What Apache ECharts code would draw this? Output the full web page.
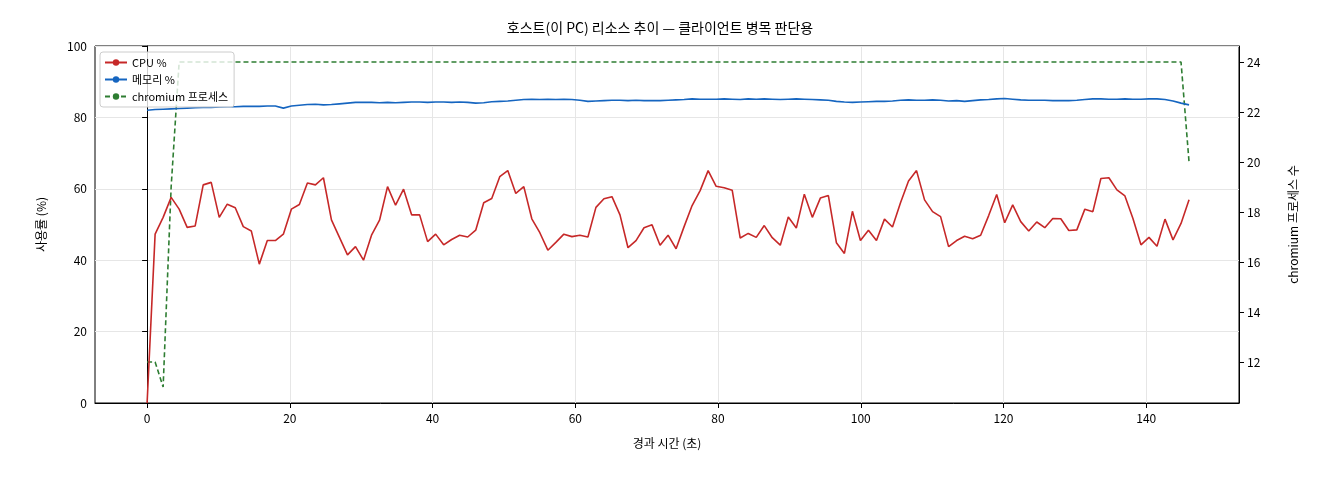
<!DOCTYPE html>
<html><head><meta charset="utf-8">
<script src="https://cdn.jsdelivr.net/npm/echarts@6/dist/echarts.min.js"></script>
<style>html,body{margin:0;padding:0;background:#fff}#c{width:1320px;height:480px}</style>
</head><body><div id="c"></div>
<script>
const SAMPLE_STEP = 146 / 130; // seconds between samples
const cpu = [0,47.3,52,57.6,54.3,49.2,49.6,61.1,61.8,52,55.7,54.7,49.4,48.2,38.9,45.5,45.5,47.3,54.3,55.6,61.6,61.1,63.1,51.3,46.4,41.5,43.8,40,47,51.2,60.6,55.4,59.9,52.7,52.7,45.2,47.3,44.3,45.8,47,46.5,48.4,56.1,57.3,63.4,65.1,58.7,
60.6,51.6,47.7,42.8,45,47.3,46.6,47,46.5,54.8,57.2,57.8,52.7,43.5,45.5,49.1,49.9,44.2,47,43.2,49.4,55.3,59.5,65.1,60.7,60.3,59.6,46.2,47.5,46.4,49.7,46.3,44.2,52.1,49,58.5,52,57.4,58.1,44.9,41.9,53.7,45.5,
48.4,45.5,51.5,49.3,56.1,62.2,65.1,56.9,53.6,52.2,43.8,45.5,46.7,46,47,52.5,58.4,50.5,55.5,50.8,48.2,50.7,49.1,51.7,51.6,48.3,48.5,54.3,53.6,62.9,63.1,59.7,58,51.7,44.3,46.4,43.9,51.5,45.7,50.3,56.9];
const mem = [82,82.2,82.3,82.4,82.5,82.6,82.7,82.8,82.8,82.9,83.0,83.0,83.1,83.1,83.1,83.2,83.2,82.6,83.2,83.4,83.6,83.7,83.5,83.6,83.8,84.0,84.2,84.2,84.2,84.1,84.2,84.1,84.2,84.3,84.3,84.2,84.3,84.3,84.2,84.3,84.2,84.0,84.1,84.4,84.5,84.6,84.8,85.0,85.1,85.0,85.1,85.0,85.1,85.0,84.8,84.5,84.6,84.7,84.8,84.8,84.7,84.8,84.7,84.7,84.7,84.8,84.9,85.0,85.2,85.1,85.1,85.1,85.2,85.1,85.0,85.2,85.1,85.2,85.1,85.0,85.1,85.2,85.1,85.0,84.9,84.8,84.5,84.3,84.2,84.3,84.4,84.5,84.5,84.6,84.8,84.9,84.8,84.8,84.9,84.8,84.6,84.7,84.5,84.7,84.9,85.0,85.2,85.3,85.1,84.9,84.8,84.8,84.8,84.7,84.7,84.7,84.8,85.0,85.2,85.2,85.1,85.1,85.2,85.1,85.1,85.2,85.2,85.0,84.6,84.0,83.5];
const procHead = [12,12,11,19];
const procSteady = 24, procSteadyCount = 126, procLast = 20;
const proc = procHead.concat(Array(procSteadyCount).fill(procSteady)).concat([procLast]);
const xTicks = [0,20,40,60,80,100,120,140];
const rightTicks = [12,14,16,18,20,22,24];

const pair = arr => arr.map((v,i)=>[+(i*SAMPLE_STEP).toFixed(3), v]);
const F = '"Noto Sans CJK KR", "DejaVu Sans", sans-serif';
const AL = {show:true,lineStyle:{color:'#000',width:1}};
const chart = echarts.init(document.getElementById('c'));
chart.setOption({
  animation:false,
  textStyle:{fontFamily:F},
  title:{text:'호스트(이 PC) 리소스 추이 — 클라이언트 병목 판단용',left:'center',top:16,textStyle:{fontSize:14,fontWeight:'normal',color:'#000',fontFamily:F}},
  grid:{left:95,right:81,top:46,bottom:77,show:true,borderColor:'#000',borderWidth:1,backgroundColor:'transparent'},
  legend:{orient:'vertical',left:100,top:52,itemWidth:22,itemHeight:8,itemGap:6,padding:[5,6,5,4],
    borderColor:'#ccc',borderWidth:1,borderRadius:3,backgroundColor:'rgba(255,255,255,0.8)',
    textStyle:{fontSize:11,color:'#000'},data:['CPU %','메모리 %','chromium 프로세스']},
  xAxis:{type:'value',min:-7.3,max:153,name:'경과 시간 (초)',nameLocation:'middle',nameGap:34,nameTextStyle:{fontSize:12,color:'#000'},
    axisLine:AL,axisTick:{show:true,customValues:xTicks,length:5,lineStyle:{color:'#000'}},
    axisLabel:{customValues:xTicks,fontSize:12,color:'#000',margin:9},
    splitLine:{show:true,lineStyle:{color:'#e6e6e6'}}},
  yAxis:[
    {type:'value',min:0,max:100,interval:20,name:'사용률 (%)',nameLocation:'middle',nameGap:48,nameTextStyle:{fontSize:12,color:'#000'},
     axisLine:AL,axisTick:{show:true,length:5,lineStyle:{color:'#000'}},axisLabel:{fontSize:12,color:'#000'},
     splitLine:{lineStyle:{color:'#e6e6e6'}}},
    {type:'value',min:10.36,max:24.64,position:'right',name:'chromium 프로세스 수',nameLocation:'middle',nameGap:48,nameRotate:90,nameTextStyle:{fontSize:12,color:'#000'},
     axisLine:AL,axisTick:{show:true,customValues:rightTicks,length:5,lineStyle:{color:'#000'}},
     axisLabel:{customValues:rightTicks,fontSize:12,color:'#000'},splitLine:{show:false}}
  ],
  series:[
    {name:'CPU %',type:'line',data:pair(cpu),symbol:'none',lineStyle:{color:'#c62828',width:1.6},itemStyle:{color:'#c62828'},z:3},
    {name:'메모리 %',type:'line',data:pair(mem),symbol:'none',lineStyle:{color:'#1565c0',width:1.6},itemStyle:{color:'#1565c0'},z:3},
    {name:'chromium 프로세스',type:'line',yAxisIndex:1,data:pair(proc),symbol:'none',lineStyle:{color:'#2e7d32',width:1.6,type:[5,3]},itemStyle:{color:'#2e7d32'},z:2}
  ]
});
</script></body></html>
